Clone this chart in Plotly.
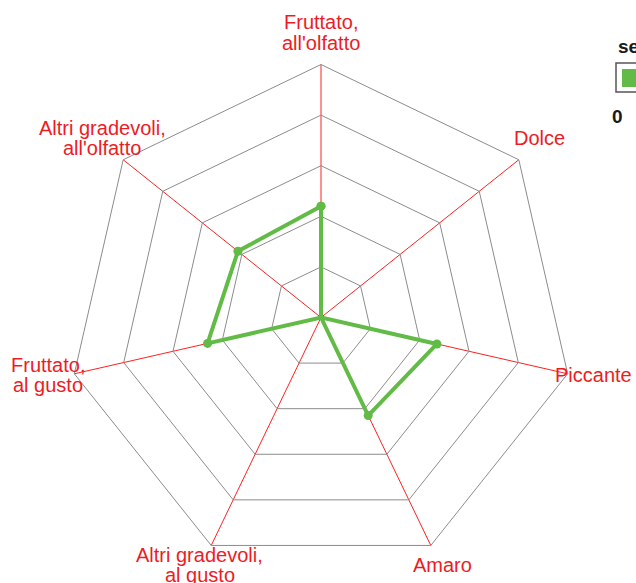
import math
import plotly.graph_objects as go

categories = ["Fruttato,<br>all'olfatto", "Dolce", "Piccante", "Amaro",
              "Altri gradevoli,<br>al gusto", "Fruttato,<br>al gusto",
              "Altri gradevoli,<br>all'olfatto"]
values = [4.4, 0.0, 4.7, 4.3, 0.0, 4.6, 4.2]
series_name = "0"
legend_title = "series"
r_max = 10
tick_values = [2, 4, 6, 8, 10]

W, H = 636, 583
cx, cy, R = 321, 317.5, 253  # pixel geometry of polar area
label_R = 280
label_lift = 5
line_gap = 20.5
FONT = "Liberation Sans, Arial, sans-serif"

fig = go.Figure()
fig.add_trace(go.Scatterpolar(
    r=values + values[:1],
    theta=categories + categories[:1],
    mode="lines+markers",
    line=dict(color="#62BB46", width=4),
    marker=dict(color="#62BB46", size=9),
    name=series_name,
    showlegend=False,
))

fig.update_layout(
    width=W, height=H,
    margin=dict(l=0, r=0, t=0, b=0),
    paper_bgcolor="white",
    plot_bgcolor="white",
    font=dict(family=FONT),
    polar=dict(
        domain=dict(x=[(cx - R) / W, (cx + R) / W],
                    y=[(H - cy - R) / H, (H - cy + R) / H]),
        bgcolor="white",
        gridshape="linear",
        radialaxis=dict(range=[0, r_max], tickvals=tick_values,
                        showticklabels=False, ticks="", showline=False,
                        gridcolor="#8C8C8C", gridwidth=1),
        angularaxis=dict(rotation=90, direction="clockwise",
                         showticklabels=False, ticks="",
                         gridcolor="#FF2020", gridwidth=1,
                         linecolor="#8C8C8C", linewidth=1),
    ),
)

# axis labels placed around the chart (one annotation per text line)
n = len(categories)
for i, lab in enumerate(categories):
    a = 2 * math.pi * i / n
    px = cx + label_R * math.sin(a)
    py = cy - label_R * math.cos(a) - label_lift
    lines = lab.split("<br>")
    k = len(lines)
    for j, ln in enumerate(lines):
        ly = py + (j - (k - 1) / 2) * line_gap
        fig.add_annotation(x=px / W, y=1 - ly / H, xref="paper", yref="paper",
                           text=ln, showarrow=False, xanchor="center", yanchor="middle",
                           font=dict(size=20, color="#ED1C24"))

# partially visible legend
fig.add_annotation(x=616 / W, y=1 - 47 / H, xref="paper", yref="paper",
                   text="<b>" + legend_title + "</b>", showarrow=False,
                   xanchor="left", yanchor="middle",
                   font=dict(size=19, color="#1a1a1a"))
fig.add_shape(type="rect", xref="paper", yref="paper",
              x0=616 / W, x1=660 / W, y0=1 - 92 / H, y1=1 - 63 / H,
              line=dict(color="#555555", width=1.5), fillcolor="white")
fig.add_shape(type="rect", xref="paper", yref="paper",
              x0=622 / W, x1=654 / W, y0=1 - 87 / H, y1=1 - 69 / H,
              line=dict(width=0), fillcolor="#62BB46")
fig.add_annotation(x=617.5 / W, y=1 - 116 / H, xref="paper", yref="paper",
                   text="<b>" + series_name + "</b>", showarrow=False,
                   xanchor="center", yanchor="middle",
                   font=dict(size=19, color="#1a1a1a"))

fig.write_html("out.html",
               config={"displayModeBar": False},
               post_script="document.body.style.margin='0';document.body.style.overflow='hidden';")
